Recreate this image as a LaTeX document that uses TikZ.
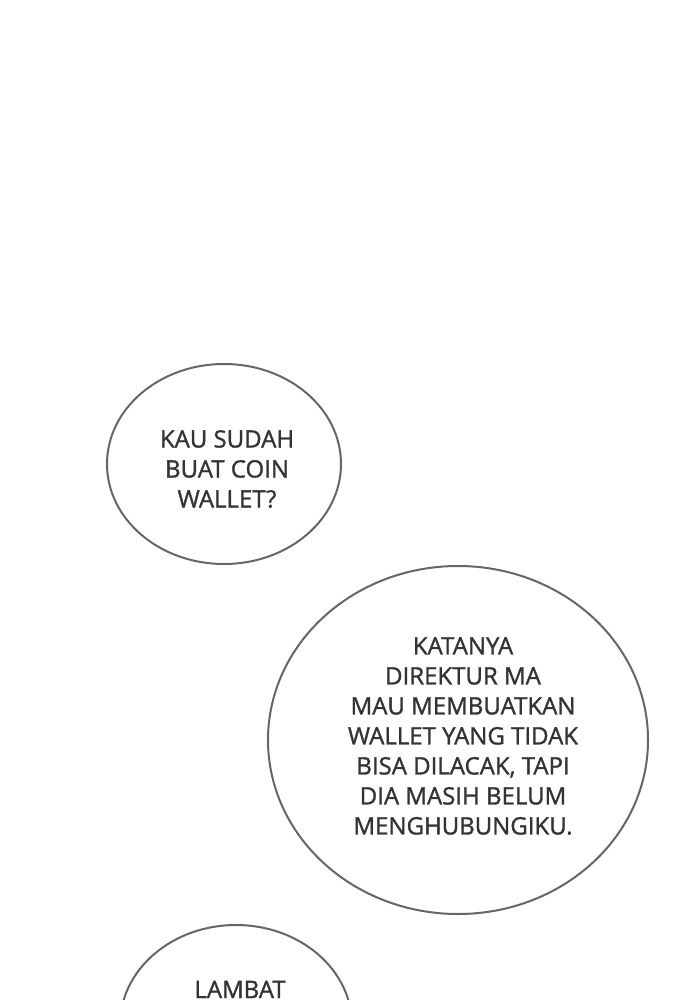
\documentclass[tikz,border=0pt]{standalone}
\usepackage{fontspec}
\setmainfont{Open Sans}
\newfontfamily\bubblefont[FakeBold=1.2]{Open Sans}
\usepackage{tikz}
\usetikzlibrary{shapes.geometric}

\tikzset{
  bubble/.style={draw=black!60,line width=2pt,fill=white,ellipse,inner sep=0pt},
  talk/.style={align=center,text=black!80,font=\bubblefont\fontsize{24}{30}\selectfont,inner sep=0pt}
}

\begin{document}
\begin{tikzpicture}[line cap=round,line join=round,x=1pt,y=-1pt]
    \useasboundingbox (0,0) rectangle (700,1000);
    \clip (0,0) rectangle (700,1000);
    \fill[white] (0,0) rectangle (700,1000);
    % first bubble
    \node[bubble,minimum width=234pt,minimum height=200pt] (ask) at (224,464) {};
    \node[talk] (asktext) at (227,469) {KAU SUDAH\\BUAT COIN\\WALLET?};
    % second bubble
    \node[bubble,minimum width=380pt,minimum height=348pt] (reply) at (458,740) {};
    \node[talk] (replytext) at (463,736) {KATANYA\\DIREKTUR MA\\MAU MEMBUATKAN\\WALLET YANG TIDAK\\BISA DILACAK, TAPI\\DIA MASIH BELUM\\MENGHUBUNGIKU.};
    % third bubble, cut by the bottom edge
    \node[bubble,minimum width=232pt,minimum height=200pt] (late) at (236,1025) {};
    \node[talk,anchor=base] (latetext) at (240,998) {LAMBAT};
\end{tikzpicture}
\end{document}
